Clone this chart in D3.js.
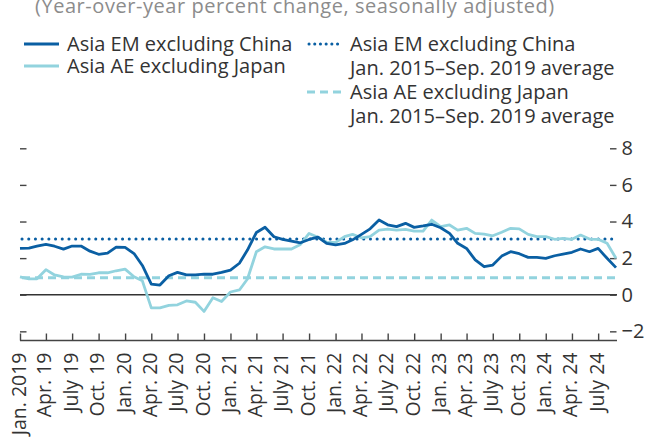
<!DOCTYPE html>
<meta charset="utf-8">
<title>Asia inflation</title>
<style>
body { margin: 0; background: #fff; }
svg { font-family: "Open Sans", "Noto Sans", sans-serif; display: block; }
</style>
<svg width="662" height="442"></svg>
<script src="https://d3js.org/d3.v7.min.js"></script>
<script>
// monthly, Jan 2019 .. Sep 2024
var firstMonth = new Date(2019, 0, 1);
var lastMonth = new Date(2024, 8, 1);

var emExChina = [
  2.53, 2.55, 2.65, 2.75, 2.65, 2.49, 2.66, 2.66, 2.38, 2.21, 2.27, 2.6,
  2.59, 2.25, 1.6, 0.58, 0.53, 1.04, 1.22, 1.08, 1.09, 1.13, 1.12, 1.22,
  1.35, 1.72, 2.44, 3.4, 3.69, 3.17, 3.02, 2.93, 2.84, 3.02, 3.15, 2.8,
  2.72, 2.8, 3.0, 3.3, 3.6, 4.08, 3.82, 3.72, 3.9, 3.68, 3.76, 3.85,
  3.66, 3.35, 2.81, 2.53, 1.9, 1.53, 1.62, 2.11, 2.35, 2.24, 2.04, 2.04,
  1.99, 2.13, 2.22, 2.32, 2.5, 2.35, 2.53, 1.99, 1.48
];

var aeExJapan = [
  0.98, 0.87, 0.87, 1.37, 1.08, 0.97, 0.96, 1.12, 1.11, 1.2, 1.2, 1.31,
  1.4, 0.98, 0.76, -0.72, -0.72, -0.58, -0.55, -0.34, -0.41, -0.91, -0.16, -0.37,
  0.15, 0.26, 0.86, 2.35, 2.62, 2.5, 2.5, 2.5, 2.75, 3.35, 3.14, 2.87,
  2.86, 3.17, 3.3, 3.11, 3.17, 3.53, 3.59, 3.53, 3.57, 3.48, 3.48, 4.08,
  3.72, 3.81, 3.53, 3.63, 3.35, 3.31, 3.22, 3.41, 3.63, 3.6, 3.3, 3.17,
  3.17, 3.03, 3.08, 3.03, 3.26, 3.04, 3.03, 2.81, 1.99
];

var emAverage = 3.04;
var aeAverage = 0.93;

var yTicks = [-2, 0, 2, 4, 6, 8];
var xTickLabels = [
  "Jan. 2019", "Apr. 19", "July 19", "Oct. 19",
  "Jan. 20", "Apr. 20", "July 20", "Oct. 20",
  "Jan. 21", "Apr. 21", "July 21", "Oct. 21",
  "Jan. 22", "Apr. 22", "July 22", "Oct. 22",
  "Jan. 23", "Apr. 23", "July 23", "Oct. 23",
  "Jan. 24", "Apr. 24", "July 24"
];

var titleText = "(Year-over-year percent change, seasonally adjusted)";
var avgLabel = "Jan. 2015\u2013Sep. 2019 average";

var darkBlue = "#0a5fa3",
    lightBlue = "#92d3de",
    textColor = "#333",
    axisColor = "#444";

var months = d3.timeMonth.range(firstMonth, d3.timeMonth.offset(lastMonth, 1));
var quarters = d3.timeMonth.every(3).range(firstMonth, lastMonth);

var svg = d3.select("svg");

var x = d3.scaleTime()
  .domain([firstMonth, lastMonth])
  .range([20, 616]);

var y = d3.scaleLinear()
  .domain([-2.5, 8])
  .range([340.5, 148.3]);

// title (runs off the top)
svg.append("text")
  .attr("x", 35)
  .attr("y", 13)
  .attr("font-size", 20)
  .attr("letter-spacing", 0.55)
  .attr("fill", "#8c8c8c")
  .text(titleText);

// legend
var legendItems = [
  {lx: 24, ly: 44, color: darkBlue, dash: null, lines: ["Asia EM excluding China"]},
  {lx: 24, ly: 66, color: lightBlue, dash: null, lines: ["Asia AE excluding Japan"]},
  {lx: 307, ly: 44, color: darkBlue, dash: "0.1,5.6", lines: ["Asia EM excluding China", avgLabel]},
  {lx: 307, ly: 92, color: lightBlue, dash: "8,5", lines: ["Asia AE excluding Japan", avgLabel]}
];

var legend = svg.append("g")
  .selectAll("g")
  .data(legendItems)
  .enter().append("g")
    .attr("transform", function(d) { return "translate(" + d.lx + "," + d.ly + ")"; });

legend.append("line")
  .attr("x1", function(d) { return d.dash && d.dash.indexOf("0.1") == 0 ? 2 : 0; })
  .attr("x2", 35)
  .attr("stroke", function(d) { return d.color; })
  .attr("stroke-width", 3)
  .attr("stroke-linecap", function(d) { return d.dash && d.dash.indexOf("0.1") == 0 ? "round" : "butt"; })
  .attr("stroke-dasharray", function(d) { return d.dash; });

legend.append("text")
  .attr("font-size", 20)
  .attr("fill", textColor)
  .selectAll("tspan")
  .data(function(d) { return d.lines; })
  .enter().append("tspan")
    .attr("x", 43)
    .attr("y", function(d, i) { return i * 23.5; })
    .attr("dy", "0.35em")
    .text(function(d) { return d; });

// zero line
svg.append("line")
  .attr("x1", 20)
  .attr("x2", 617)
  .attr("y1", y(0))
  .attr("y2", y(0))
  .attr("stroke", "#333")
  .attr("stroke-width", 1.3);

// left ticks, no labels
var leftAxis = svg.append("g")
  .attr("transform", "translate(20,0)")
  .call(d3.axisLeft(y).tickValues(yTicks).tickSize(-6.5).tickFormat(""));
leftAxis.select(".domain").remove();
leftAxis.selectAll("line").attr("stroke", axisColor).attr("stroke-width", 1.4);

// right ticks with labels
var rightAxis = svg.append("g")
  .attr("transform", "translate(610,0)")
  .call(d3.axisRight(y).tickValues(yTicks).tickSize(6.5).tickPadding(5));
rightAxis.select(".domain").remove();
rightAxis.selectAll("line").attr("stroke", axisColor).attr("stroke-width", 1.4);
rightAxis.selectAll("text")
  .attr("font-family", "'Open Sans', 'Noto Sans', sans-serif")
  .attr("font-size", 20)
  .attr("fill", textColor);

// bottom axis
var bottomAxis = svg.append("g")
  .attr("transform", "translate(0," + y(-2.5) + ")")
  .call(d3.axisBottom(x).tickValues(quarters).tickSize(-7).tickSizeOuter(0).tickFormat(""));
bottomAxis.select(".domain")
  .attr("d", "M20,0H617")
  .attr("stroke", axisColor)
  .attr("stroke-width", 1.4);
bottomAxis.selectAll("line").attr("stroke", axisColor).attr("stroke-width", 1.4);

svg.append("g")
  .selectAll("text")
  .data(quarters)
  .enter().append("text")
    .attr("transform", function(d) { return "translate(" + (x(d) - 1.5) + "," + (y(-2.5) + 12) + ") rotate(-90)"; })
    .attr("text-anchor", "end")
    .attr("dy", "0.36em")
    .attr("font-size", 19.5)
    .attr("fill", textColor)
    .text(function(d, i) { return xTickLabels[i]; });

// average lines
svg.append("line")
  .attr("x1", 22)
  .attr("x2", 617)
  .attr("y1", y(aeAverage))
  .attr("y2", y(aeAverage))
  .attr("stroke", lightBlue)
  .attr("stroke-width", 3)
  .attr("stroke-dasharray", "8,5");

svg.append("line")
  .attr("x1", 22)
  .attr("x2", 617)
  .attr("y1", y(emAverage))
  .attr("y2", y(emAverage))
  .attr("stroke", darkBlue)
  .attr("stroke-width", 3)
  .attr("stroke-linecap", "round")
  .attr("stroke-dasharray", "0.1,6.6");

// series
var line = d3.line()
  .x(function(d, i) { return x(months[i]); })
  .y(function(d) { return y(d); });

svg.append("path")
  .datum(aeExJapan)
  .attr("fill", "none")
  .attr("stroke", lightBlue)
  .attr("stroke-width", 2.8)
  .attr("stroke-linejoin", "round")
  .attr("d", line);

svg.append("path")
  .datum(emExChina)
  .attr("fill", "none")
  .attr("stroke", darkBlue)
  .attr("stroke-width", 2.8)
  .attr("stroke-linejoin", "round")
  .attr("d", line);
</script>
